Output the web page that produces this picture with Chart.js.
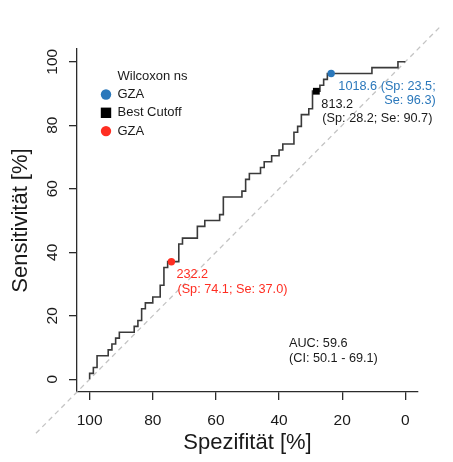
<!DOCTYPE html>
<html>
<head>
<meta charset="utf-8">
<script src="https://cdn.jsdelivr.net/npm/chart.js@4.4.1/dist/chart.umd.min.js"></script>
<style>
  html, body { margin: 0; padding: 0; background: #ffffff; }
  canvas { display: block; }
</style>
</head>
<body>
<canvas id="rocChart" width="453" height="462"></canvas>
<script>
// ROC curve corners, specificity % (x, reversed) and sensitivity % (y)
const rocSpec = [100, 100, 98.82, 98.82, 97.65, 97.65, 94.12, 94.12, 92.94, 92.94, 91.76, 91.76, 90.59, 90.59,
  85.88, 85.88, 84.71, 84.71, 83.53, 83.53, 82.35, 82.35, 80.0, 80.0, 77.65, 77.65, 76.47, 76.47, 75.29, 75.29,
  74.12, 71.76, 71.76, 70.59, 70.59, 65.88, 65.88, 63.53, 63.53, 58.82, 58.82, 57.65, 57.65, 51.76, 51.76,
  50.59, 50.59, 49.41, 49.41, 45.88, 45.88, 44.71, 44.71, 42.35, 42.35, 40.0, 40.0, 38.82, 38.82, 35.29,
  35.29, 34.12, 34.12, 32.94, 32.94, 30.59, 30.59, 29.41, 29.41, 28.24, 27.06, 27.06, 25.88, 25.88, 24.71,
  24.71, 23.53, 10.59, 10.59, 2.35, 2.35, 0];
const rocSens = [0, 1.85, 1.85, 3.70, 3.70, 7.41, 7.41, 9.26, 9.26, 11.11, 11.11, 12.96, 12.96, 14.81,
  14.81, 16.67, 16.67, 18.52, 18.52, 22.22, 22.22, 24.07, 24.07, 25.93, 25.93, 29.63, 29.63, 35.19, 35.19, 37.04,
  37.04, 37.04, 42.59, 42.59, 44.44, 44.44, 48.15, 48.15, 50.0, 50.0, 51.85, 51.85, 57.41, 57.41, 59.26,
  59.26, 62.96, 62.96, 64.81, 64.81, 66.67, 66.67, 68.52, 68.52, 70.37, 70.37, 72.22, 72.22, 74.07, 74.07,
  77.78, 77.78, 79.63, 79.63, 83.33, 83.33, 85.19, 85.19, 90.74, 90.74, 90.74, 92.59, 92.59, 94.44, 94.44,
  96.30, 96.30, 96.30, 98.15, 98.15, 100, 100];

// chance diagonal, runs past the axes like the R plot
const diagSpec = [117, -11];
const diagSens = [-17, 111];

// threshold points
const pointNames = ['GZA', 'Best Cutoff', 'GZA'];
const pointCutoffs = ['1018.6', '813.2', '232.2'];
const pointSpec = [23.5, 28.2, 74.1];
const pointSens = [96.3, 90.7, 37.0];
const pointColors = ['#2b78bb', '#000000', '#ff2e22'];
const pointShapes = ['circle', 'rect', 'circle'];

const legendTitle = 'Wilcoxon ns';
const aucLines = ['AUC: 59.6', '(CI: 50.1 - 69.1)'];
const axisTicks = [0, 20, 40, 60, 80, 100];

const fontFamily = '"Liberation Sans", Arial, Helvetica, sans-serif';
const inkColor = '#1a1a1a';

function toPoints(xs, ys) {
  return xs.map((x, i) => ({ x: x, y: ys[i] }));
}

// text lines next to each threshold point
function pointLabelLines(i) {
  const sp = pointSpec[i].toFixed(1);
  const se = pointSens[i].toFixed(1);
  if (i === 0) return [`${pointCutoffs[i]} (Sp: ${sp};`, `Se: ${se})`]; // blue one wraps right-aligned
  return [pointCutoffs[i], `(Sp: ${sp}; Se: ${se})`];
}

const rocTextPlugin = {
  id: 'rocText',
  afterDatasetsDraw(chart) {
    const ctx = chart.ctx;
    const area = chart.chartArea;
    const xScale = chart.scales.x;
    const yScale = chart.scales.y;
    ctx.save();
    ctx.textBaseline = 'middle';

    // labels at the threshold points
    ctx.font = '12.7px ' + fontFamily;
    pointSpec.forEach((sp, i) => {
      const px = xScale.getPixelForValue(sp);
      const py = yScale.getPixelForValue(pointSens[i]);
      const lines = pointLabelLines(i);
      ctx.fillStyle = i === 1 ? inkColor : pointColors[i];
      if (i === 0) {
        ctx.textAlign = 'right';
        lines.forEach((line, k) => ctx.fillText(line, px + 104.5, py + 13 + k * 14.5));
      } else {
        ctx.textAlign = 'left';
        lines.forEach((line, k) => ctx.fillText(line, px + 5 + k, py + 13 + k * 14.5));
      }
    });

    // AUC text
    ctx.textAlign = 'left';
    ctx.fillStyle = inkColor;
    aucLines.forEach((line, k) => ctx.fillText(line, area.left + 212, area.top + 294.5 + k * 14.5));

    // legend in the top-left corner
    ctx.font = '13px ' + fontFamily;
    const markX = area.left + 29;
    const textX = area.left + 40.5;
    ctx.fillText(legendTitle, textX, area.top + 27.5);
    pointNames.forEach((name, i) => {
      const rowY = area.top + 45.5 + i * 18.3;
      ctx.fillStyle = pointColors[i];
      if (pointShapes[i] === 'rect') {
        ctx.fillRect(markX - 5.2, rowY - 5.2, 10.4, 10.4);
      } else {
        ctx.beginPath();
        ctx.arc(markX, rowY, 5.2, 0, Math.PI * 2);
        ctx.fill();
      }
      ctx.fillStyle = inkColor;
      ctx.fillText(name, textX, rowY);
    });
    ctx.restore();
  }
};

const pointDatasets = pointSpec.map((sp, i) => ({
  label: pointNames[i],
  data: [{ x: sp, y: pointSens[i] }],
  pointStyle: pointShapes[i],
  pointRadius: pointShapes[i] === 'rect' ? 4.8 : 3.7,
  backgroundColor: pointColors[i],
  borderColor: pointColors[i],
  borderWidth: 0,
  clip: false
}));

const axisStyle = {
  border: { display: true, color: '#2b2b2b', width: 1.3 },
  grid: { display: true, drawOnChartArea: false, drawTicks: true, tickLength: 8, color: '#2b2b2b', lineWidth: 1.3 }
};

new Chart(document.getElementById('rocChart').getContext('2d'), {
  type: 'scatter',
  data: {
    datasets: pointDatasets.concat([
      {
        label: 'ROC',
        data: toPoints(rocSpec, rocSens),
        showLine: true,
        borderColor: '#3a3a3a',
        borderWidth: 1.6,
        pointRadius: 0,
        fill: false
      },
      {
        label: 'chance',
        data: toPoints(diagSpec, diagSens),
        showLine: true,
        borderColor: '#c4c4c4',
        borderWidth: 1.3,
        borderDash: [5, 4],
        pointRadius: 0,
        clip: false
      }
    ])
  },
  options: {
    responsive: false,
    devicePixelRatio: 1,
    animation: false,
    layout: { padding: { top: 49, right: 35, left: 0, bottom: 0 } },
    plugins: { legend: { display: false }, tooltip: { enabled: false } },
    scales: {
      x: Object.assign({
        type: 'linear',
        reverse: true,
        min: -4,
        max: 104,
        afterBuildTicks: (scale) => { scale.ticks = axisTicks.map(v => ({ value: v })); },
        afterFit: (scale) => { scale.height = 70; },
        ticks: { color: inkColor, font: { family: fontFamily, size: 15.5 }, padding: 11, maxRotation: 0 },
        title: { display: true, text: 'Spezifität [%]', color: inkColor, font: { family: fontFamily, size: 22 }, padding: { top: 0, bottom: 6 } }
      }, axisStyle),
      y: Object.assign({
        type: 'linear',
        min: -4,
        max: 104,
        afterBuildTicks: (scale) => { scale.ticks = axisTicks.map(v => ({ value: v })); },
        afterFit: (scale) => { scale.width = 77; },
        ticks: { color: inkColor, font: { family: fontFamily, size: 15.5 }, padding: 3, minRotation: 90, maxRotation: 90, crossAlign: 'center' },
        title: { display: true, text: 'Sensitivität [%]', color: inkColor, font: { family: fontFamily, size: 22 }, padding: { top: 8, bottom: 0 } }
      }, axisStyle)
    }
  },
  plugins: [rocTextPlugin]
});
</script>
</body>
</html>
